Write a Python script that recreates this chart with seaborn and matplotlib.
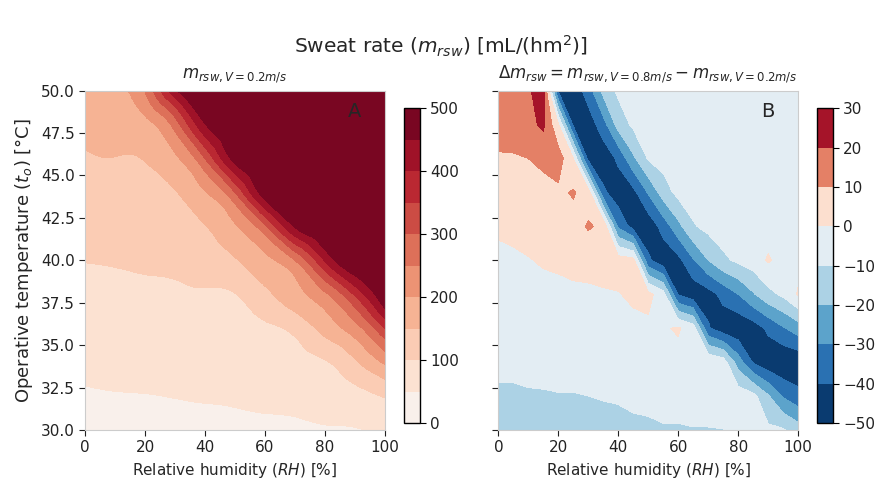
import numpy as np
import matplotlib
matplotlib.use("Agg")
import matplotlib.pyplot as plt
import matplotlib.tri as mtri
import seaborn as sns
from matplotlib.colors import TwoSlopeNorm

# grid of operative temperatures (rows) shared by both panels
temp = [30, 32, 34, 36, 38, 40, 42, 44, 46, 48, 50]

# Panel A: sweat rate at V = 0.2 m/s (capped at 500)
rh_a = [0, 10, 20, 30, 40, 50, 60, 70, 80, 90, 100]
sweat_a = [
    [32, 34, 35, 37, 39, 41, 42, 43, 45, 48, 55],
    [46, 48, 49, 51, 53, 55, 59, 63, 71, 82, 104],
    [59, 62, 63, 66, 68, 70, 75, 83, 96, 143, 209],
    [73, 75, 78, 80, 82, 84, 92, 114, 168, 228, 350],
    [87, 89, 92, 94, 96, 99, 137, 181, 241, 358, 500],
    [101, 103, 106, 110, 120, 145, 188, 250, 405, 500, 500],
    [116, 118, 121, 129, 148, 195, 292, 455, 500, 500, 500],
    [131, 134, 136, 147, 197, 300, 480, 500, 500, 500, 500],
    [146, 149, 152, 191, 300, 470, 500, 500, 500, 500, 500],
    [162, 169, 185, 272, 447, 500, 500, 500, 500, 500, 500],
    [177, 190, 250, 440, 500, 500, 500, 500, 500, 500, 500],
]

# Panel B: difference V = 0.8 m/s minus V = 0.2 m/s
rh_b = [0, 5, 10, 15, 20, 25, 30, 35, 40, 45, 50, 55, 60, 65, 70, 75, 80, 85, 90, 95, 100]
delta_b = [
    [-14, -14, -14, -13, -13, -13, -13, -13, -13, -12, -12, -11, -11, -10.5, -10.5, -10.2, -9, -8, -8, -9, -15],
    [-12, -12, -11, -11, -10.5, -10.5, -10, -9.5, -9, -8, -7, -6, -6, -5, -5, -4, -4, -7, -19, -31, -37],
    [-7, -7, -7, -6, -6, -6, -5, -5, -5, -4, -4, -4, -3, -2, -1, -5, -25, -41, -47, -49, -48],
    [-6, -6, -5, -5, -5, -4, -4, -4, -3, -3, -2, -1, 1, -5, -39, -46, -48, -45, -38, -31, -25],
    [-4, -4, -4, -3, -3, -2, -1.5, -1, -0.5, 2, 3, -6, -41, -47, -44, -37, -30, -21, -13, -8, 1],
    [-3, -2, -0.5, 1, 2, 3, 3, 4, 5, 3, -38, -47, -43, -31, -20, -12, -8, -5, 1, -4, -3],
    [2, 3, 4, 5, 5, 6, 11, 8, -32, -44, -47, -36, -23, -11, -7, -5, -4, -4, -4, -4, -4],
    [6, 6, 7, 7, 8, 11, 5, -38, -46, -43, -29, -15, -7, -5, -4, -4, -4, -4, -4, -4, -4],
    [9, 9, 10, 12, 15, 0, -43, -47, -38, -22, -9, -6, -5, -4, -4, -4, -4, -4, -4, -4, -4],
    [14, 15, 17, 22, 1, -42, -46, -34, -16, -8, -6, -5, -4, -4, -4, -4, -4, -4, -4, -4, -4],
    [15, 17, 19, 24, -41, -47, -35, -17, -8, -6, -5, -4, -4, -4, -4, -4, -4, -4, -4, -4, -4],
]

levels_a = np.arange(0, 501, 50)
levels_b = np.arange(-50, 31, 10)

sns.set_style("white")
plt.rcParams.update({
    "axes.edgecolor": "#cccccc",
    "xtick.bottom": True,
    "ytick.left": True,
    "xtick.direction": "out",
    "ytick.direction": "out",
    "xtick.color": "#222222",
    "ytick.color": "#222222",
    "xtick.major.size": 4,
    "ytick.major.size": 4,
    "font.size": 10,
})

fig = plt.figure(figsize=(8.82, 4.87), dpi=100)
ax_a = fig.add_axes([0.0964, 0.117, 0.340, 0.697])
ax_b = fig.add_axes([0.565, 0.117, 0.340, 0.697])
cax_a = fig.add_axes([0.458, 0.131, 0.018, 0.647])
cax_b = fig.add_axes([0.926, 0.131, 0.018, 0.647])

# Panel A - smooth the coarse grid with matplotlib's cubic tri refiner,
# triangulated in grid-index space so the cells are square
gi, gj = np.meshgrid(np.arange(len(rh_a)), np.arange(len(temp)))
tri_a = mtri.Triangulation(gi.ravel().astype(float), gj.ravel().astype(float))
tri_fine, z_fine = mtri.UniformTriRefiner(tri_a).refine_field(
    np.array(sweat_a, dtype=float).ravel(), subdiv=3)
x_fine = np.interp(tri_fine.x, np.arange(len(rh_a)), rh_a)
y_fine = np.interp(tri_fine.y, np.arange(len(temp)), temp)
tri_fine = mtri.Triangulation(x_fine, y_fine, tri_fine.triangles)
z_fine = np.clip(z_fine, 0, 499.9)
cs_a = ax_a.tricontourf(tri_fine, z_fine, levels=levels_a,
                        cmap="RdBu_r", vmin=-500, vmax=500)
ax_a.set_title(r"$m_{rsw,V=0.2m/s}$", fontsize=12, pad=9)
ax_a.set_ylabel(r"Operative temperature ($t_o$) [°C]", fontsize=13)
ax_a.set_xlabel(r"Relative humidity ($RH$) [%]", fontsize=11)
ax_a.text(0.9, 0.938, "A", transform=ax_a.transAxes, fontsize=14,
          ha="center", va="center")
cb_a = fig.colorbar(cs_a, cax=cax_a, ticks=np.arange(0, 501, 100))

# Panel B
norm_b = TwoSlopeNorm(vmin=-47, vcenter=0, vmax=30)
cs_b = ax_b.contourf(rh_b, temp, np.array(delta_b), levels=levels_b,
                     cmap="RdBu_r", norm=norm_b)
ax_b.set_title(r"$\Delta m_{rsw} = m_{rsw,V=0.8m/s} - m_{rsw,V=0.2m/s}$",
               fontsize=12, pad=9)
ax_b.set_xlabel(r"Relative humidity ($RH$) [%]", fontsize=11)
ax_b.tick_params(labelleft=False)
ax_b.text(0.9, 0.938, "B", transform=ax_b.transAxes, fontsize=14,
          ha="center", va="center")
cb_b = fig.colorbar(cs_b, cax=cax_b, ticks=levels_b)

for ax in (ax_a, ax_b):
    ax.set_xlim(0, 100)
    ax.set_ylim(30, 50)
    ax.set_xticks(np.arange(0, 101, 20))
    ax.set_yticks(np.arange(30, 50.1, 2.5))
    ax.tick_params(labelsize=11)

for cb in (cb_a, cb_b):
    cb.outline.set_edgecolor("black")
    cb.outline.set_linewidth(1)
    cb.ax.tick_params(labelsize=11, color="black", length=4)

fig.suptitle(r"Sweat rate ($m_{rsw}$) [mL/(hm$^2$)]", fontsize=14.5, y=0.93)

fig.savefig("out.png", dpi=100)
